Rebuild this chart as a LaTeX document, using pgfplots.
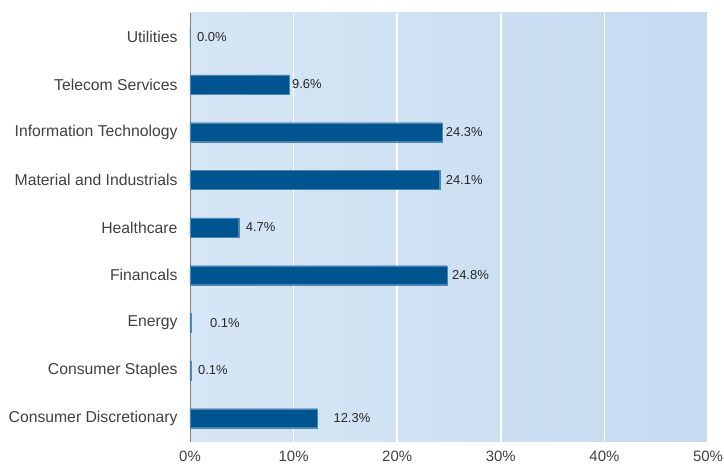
\documentclass[border=0pt]{standalone}
\usepackage{pgfplots}
\pgfplotsset{compat=1.18}
\usepackage{pgfplotstable}
\usepackage{fontspec}
\setmainfont{Liberation Sans}

\definecolor{barblue}{RGB}{0,84,143}
\definecolor{bgleft}{RGB}{223,235,247}
\definecolor{bgright}{RGB}{189,214,238}
\definecolor{txt}{RGB}{64,64,64}
\definecolor{valtxt}{RGB}{40,40,40}
\pgfdeclarehorizontalshading{bgshade}{100bp}{color(0bp)=(bgleft); color(100bp)=(bgright)}

% y position, value, label shift (bp)
\pgfplotstableread{
y  val   dx
0  12.3  16
1  0.1   7
2  0.1   19
3  24.8  5
4  4.7   7
5  24.1  6
6  24.3  4
7  9.6   2.5
8  0.0   7
}\sectors

\begin{document}
\begin{tikzpicture}
\begin{axis}[
    name=ax,
    scale only axis,
    width=518bp, height=429bp,
    xmin=0, xmax=50,
    ymin=-0.5, ymax=8.5,
    xbar, bar width=19bp, bar shift=0pt,
    xtick={0,10,20,30,40,50},
    xticklabel={\pgfmathprintnumber{\tick}\%},
    ytick={0,...,8},
    yticklabels={Consumer Discretionary,Consumer Staples,Energy,Financals,Healthcare,Material and Industrials,Information Technology,Telecom Services,Utilities},
    major tick length=0pt,
    /pgf/number format/assume math mode=true,
    tick label style={text=txt},
    yticklabel style={font=\fontsize{15.8}{18}\selectfont, xshift=-9bp},
    xticklabel style={font=\fontsize{15}{18}\selectfont, yshift=-6bp},
    axis x line*=bottom,
    x axis line style={draw=none, -},
    axis y line*=left,
    y axis line style={draw=gray, line width=0.8pt, -},
    xmajorgrids=true,
    grid style={white, line width=1.5pt},
    axis background/.style={shading=bgshade},
    nodes near coords={\pgfmathprintnumber[fixed,fixed zerofill,precision=1]{\pgfplotspointmeta}\%},
    point meta=explicit,
    visualization depends on={\thisrow{dx} \as \dx},
    every node near coord/.append style={anchor=west, inner sep=0pt, xshift=\dx bp, text=valtxt, font=\fontsize{13}{15}\selectfont},
]
\addplot[fill=barblue, draw=barblue!70!white, line width=0.3pt]
    table[x=val, y=y, meta=val] {\sectors};
\end{axis}
\pgfresetboundingbox
\path ([xshift=-190bp,yshift=-25bp]ax.south west) rectangle ([xshift=16bp,yshift=13bp]ax.north east);
\end{tikzpicture}
\end{document}
